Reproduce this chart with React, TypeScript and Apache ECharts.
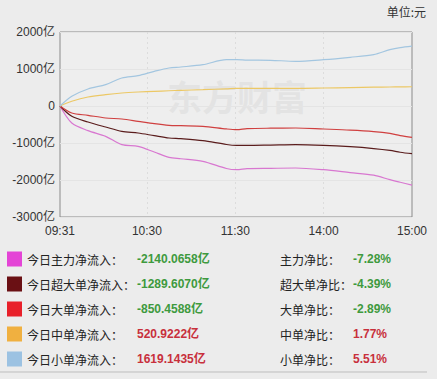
import React, { useEffect, useRef } from "react";
import * as echarts from "echarts";

// minute index (0 = 09:31 ... 119 = 11:30, 120 = 13:01 ... 239 = 15:00)
const sampleIdx = [0, 8, 19, 31, 42, 53, 64, 74, 82, 97, 113, 120, 127, 143, 160, 179, 197, 213, 224, 231, 239];
// 今日主力净流入 (亿)
const mainFlow = [0, -460, -667, -820, -1045, -1090, -1243, -1387, -1425, -1495, -1690, -1722, -1695, -1685, -1676, -1722, -1800, -1870, -1992, -2060, -2140.0658];
// 今日超大单净流入
const superLarge = [0, -279, -432, -568, -685, -730, -802, -865, -883, -937, -1040, -1063, -1063, -1055, -1045, -1063, -1100, -1150, -1200, -1250, -1289.607];
// 今日大单净流入
const large = [0, -189, -252, -324, -351, -414, -478, -522, -532, -549, -620, -640, -613, -600, -595, -622, -650, -690, -740, -800, -850.4588];
// 今日中单净流入
const medium = [0, 127, 243, 306, 351, 378, 396, 412, 424, 441, 465, 478, 478, 478, 478, 487, 498, 508, 514, 518, 520.9222];
// 今日小单净流入
const small = [0, 262, 460, 577, 757, 820, 937, 1027, 1054, 1117, 1252, 1252, 1240, 1235, 1208, 1252, 1316, 1387, 1522, 1580, 1619.1435];

const xLabelIdx = [0, 59, 119, 179, 239];
const xSplitIdx = [59, 119, 179];
const yTicks = { min: -3000, max: 2000, interval: 1000 };

const legendNames = ["今日主力净流入：", "今日超大单净流入：", "今日大单净流入：", "今日中单净流入：", "今日小单净流入："];
const legendValues = ["-2140.0658亿", "-1289.6070亿", "-850.4588亿", "520.9222亿", "1619.1435亿"];
const ratioNames = ["主力净比：", "超大单净比：", "大单净比：", "中单净比：", "小单净比："];
const ratioValues = ["-7.28%", "-4.39%", "-2.89%", "1.77%", "5.51%"];

const swatchColors = ["#e444d6", "#6a1014", "#e8202a", "#f0b040", "#9cc2e2"];
const lineColors = ["#d877d0", "#5a1c1c", "#d04040", "#ecc865", "#a3c6e0"];
const seriesData = [mainFlow, superLarge, large, medium, small];

function buildCategories(): string[] {
  const out: string[] = [];
  const pad = (n: number) => (n < 10 ? "0" + n : "" + n);
  for (let m = 9 * 60 + 31; m <= 11 * 60 + 30; m++) out.push(pad(Math.floor(m / 60)) + ":" + pad(m % 60));
  for (let m = 13 * 60 + 1; m <= 15 * 60; m++) out.push(pad(Math.floor(m / 60)) + ":" + pad(m % 60));
  return out;
}

export default function App() {
  const ref = useRef<HTMLDivElement>(null);
  useEffect(() => {
    document.body.style.margin = "0";
    document.body.style.background = "#ececec";
    const chart = echarts.init(ref.current!, null, { renderer: "svg" });
    const cats = buildCategories();
    const font = "Arial, 'Liberation Sans', 'Noto Sans CJK SC'";
    const rowY = [259, 284, 309, 334, 359];
    const graphics: any[] = [
      {
        type: "text",
        left: 167,
        top: 78,
        silent: true,
        z: 0,
        style: { text: "东方财富", fill: "rgba(200,200,200,0.28)", font: "bold 35px 'Noto Sans CJK SC'" },
      },
      {
        type: "text",
        right: 11,
        top: 5,
        style: { text: "单位:元", fill: "#333", font: "12px 'Noto Sans CJK SC'" },
      },
      {
        type: "line",
        shape: { x1: 0, y1: 372, x2: 427, y2: 372 },
        style: { stroke: "#bdbdbd", lineWidth: 1 },
      },
    ];
    rowY.forEach((y, i) => {
      graphics.push({ type: "rect", shape: { x: 7, y: y - 7.5, width: 15, height: 15 }, style: { fill: swatchColors[i] } });
      graphics.push({
        type: "text",
        x: 27,
        y,
        style: { text: legendNames[i], fill: "#222", font: "12px 'Noto Sans CJK SC'", verticalAlign: "middle" },
      });
      const neg = legendValues[i].startsWith("-");
      graphics.push({
        type: "text",
        x: 137,
        y,
        style: { text: legendValues[i], fill: neg ? "#3e9a3e" : "#c8303c", font: "bold 12px " + font, verticalAlign: "middle" },
      });
      graphics.push({
        type: "text",
        x: 280,
        y,
        style: { text: ratioNames[i], fill: "#222", font: "12px 'Noto Sans CJK SC'", verticalAlign: "middle" },
      });
      const rneg = ratioValues[i].startsWith("-");
      graphics.push({
        type: "text",
        x: 353,
        y,
        style: { text: ratioValues[i], fill: rneg ? "#3e9a3e" : "#c8303c", font: "bold 12px " + font, verticalAlign: "middle" },
      });
    });

    chart.setOption({
      animation: false,
      backgroundColor: "#ececec",
      grid: {
        left: 60,
        right: 25,
        top: 32,
        bottom: 162,
        show: true,
        borderColor: "#8a8a8a",
        borderWidth: 1,
        backgroundColor: "#eeeeee",
      },
      xAxis: {
        type: "category",
        data: cats,
        boundaryGap: false,
        axisLine: { show: false },
        axisTick: { show: false },
        axisLabel: {
          interval: (idx: number) => xLabelIdx.includes(idx),
          color: "#333",
          fontSize: 12,
          fontFamily: font,
          margin: 8,
          showMinLabel: true,
          showMaxLabel: true,
        },
        splitLine: {
          show: true,
          interval: (idx: number) => xSplitIdx.includes(idx),
          lineStyle: { color: "#dcdcdc", type: [2, 3], width: 1 },
        },
      },
      yAxis: {
        type: "value",
        min: yTicks.min,
        max: yTicks.max,
        interval: yTicks.interval,
        axisLine: { show: false },
        axisTick: { show: false },
        axisLabel: {
          color: "#333",
          fontSize: 12,
          fontFamily: font,
          margin: 5,
          formatter: (v: number) => (v === 0 ? "0" : v + "亿"),
        },
        splitLine: { show: true, lineStyle: { color: "#e4e4e4", width: 1 } },
      },
      graphic: graphics,
      series: seriesData.map((arr, i) => ({
        type: "line",
        data: arr.map((v, k) => [sampleIdx[k], v]),
        showSymbol: false,
        smooth: 0.3,
        z: 3 + i,
        lineStyle: { color: lineColors[i], width: 1.2 },
        itemStyle: { color: lineColors[i] },
      })),
    });
    return () => chart.dispose();
  }, []);
  return <div ref={ref} style={{ width: 437, height: 379 }} />;
}
